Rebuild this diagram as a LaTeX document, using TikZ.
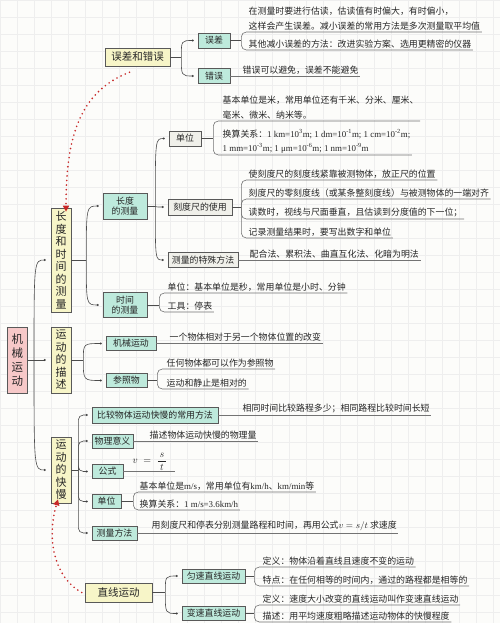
\documentclass[tikz,border=0pt]{standalone}
\usepackage{fontspec}
\setmainfont{Noto Sans CJK SC}
\newfontfamily\lat{Liberation Serif}
\usetikzlibrary{arrows.meta}

\begin{document}
\begin{tikzpicture}[x=1pt, y=-1pt,
  box/.style={rectangle, draw=black!65, line width=0.6pt, inner sep=0pt,
    text=black!85, font=\fontsize{8.9}{10.5}\selectfont, align=center},
  tbox/.style={box, fill=tema, font=\fontsize{11}{12.5}\selectfont},
  rbox/.style={box, fill=ramo},
  vbox/.style={box, fill=voce},
  ln/.style={anchor=south west, inner xsep=1.5pt, inner ysep=1.6pt,
    text=black!85, font=\fontsize{8.9}{14.5}\selectfont, align=left},
  conn/.style={draw=black!70, line width=0.6pt},
  ul/.style={draw=black!55, line width=0.6pt, rounded corners=5pt},
  rimando/.style={draw=freccia, line width=1.8pt, line cap=round,
    dash pattern=on 0pt off 4.6pt, -{Triangle[length=6pt,width=6pt]}},
]
\definecolor{tema}{RGB}{247,245,200}
\definecolor{ramo}{RGB}{190,234,220}
\definecolor{voce}{RGB}{240,240,234}
\definecolor{radice}{RGB}{246,200,200}
\definecolor{freccia}{RGB}{200,40,40}
\definecolor{sfondo}{RGB}{252,252,250}
\definecolor{griglia}{RGB}{238,238,238}

% sfondo a quadretti
\useasboundingbox (0,0) rectangle (500,623);
\fill[sfondo] (0,0) rectangle (500,623);
\draw[griglia, line width=0.4pt, step=17pt] (0,623) grid (500,0);

% ======================================================
% NODI
% ======================================================

% radice e temi
\node[box, fill=radice, font=\fontsize{11.5}{14}\selectfont,
  minimum width=20, minimum height=66] (jxyd) at (17.5,360) {机\\械\\运\\动};
\node[tbox, minimum width=20, minimum height=104] (cdsj) at (61,260)
  {长\\度\\和\\时\\间\\的\\测\\量};
\node[tbox, minimum width=20, minimum height=66] (ydms) at (61,360)
  {运\\动\\的\\描\\述};
\node[tbox, minimum width=20, minimum height=66] (ydkm) at (61,470)
  {运\\动\\的\\快\\慢};
\node[tbox, font=\fontsize{10.5}{12}\selectfont,
  minimum width=65, minimum height=18] (wucuo) at (137.5,57) {误差和错误};
\node[tbox, font=\fontsize{10.5}{12}\selectfont,
  minimum width=67, minimum height=19] (zxyd) at (118.5,592.5) {直线运动};

% rami
\node[rbox, minimum width=32, minimum height=15] (wucha) at (214,40.5) {误差};
\node[rbox, minimum width=32, minimum height=15] (cuowu) at (214,76) {错误};
\node[rbox, minimum width=44, minimum height=26] (cdcl) at (125,206) {长度\\的测量};
\node[rbox, minimum width=44, minimum height=25] (sjcl) at (125,305) {时间\\的测量};
\node[vbox, minimum width=32, minimum height=15] (dw1) at (185,138.5) {单位};
\node[vbox, minimum width=64, minimum height=16] (kdc) at (200,207) {刻度尺的使用};
\node[vbox, minimum width=70, minimum height=15] (tsff) at (203,260) {测量的特殊方法};
\node[rbox, minimum width=50, minimum height=14] (jxydb) at (131,343.5) {机械运动};
\node[rbox, minimum width=41, minimum height=14] (czw) at (126.5,380.5) {参照物};
\node[rbox, minimum width=126, minimum height=16] (bjff) at (155,415) {比较物体运动快慢的常用方法};
\node[rbox, minimum width=41, minimum height=14] (wlyy) at (112.5,441) {物理意义};
\node[rbox, minimum width=31, minimum height=14] (gs) at (107.5,471.5) {公式};
\node[rbox, minimum width=29, minimum height=14] (dw2) at (106.5,501.5) {单位};
\node[rbox, minimum width=45, minimum height=14] (clff) at (114.5,533) {测量方法};
\node[rbox, minimum width=63, minimum height=14] (ys) at (213.5,576) {匀速直线运动};
\node[rbox, minimum width=63, minimum height=14] (bs) at (213.5,613.5) {变速直线运动};

% testi sottolineati
\node[ln] (wc1) at (247,32) {在测量时要进行估读，估读值有时偏大，有时偏小，\\这样会产生误差。减小误差的常用方法是多次测量取平均值};
\node[ln] (wc2) at (247,50) {其他减小误差的方法：改进实验方案、选用更精密的仪器};
\node[ln] (cw1) at (241,76) {错误可以避免，误差不能避免};
\node[ln] (dwt1) at (221,121) {基本单位是米，常用单位还有千米、分米、厘米、\\毫米、微米、纳米等。};
\node[ln, font=\fontsize{8.9}{14}\selectfont] (dwt2) at (221,155)
  {换算关系：{\lat 1 km=10\textsuperscript{3}m; 1 dm=10\textsuperscript{-1}m; 1 cm=10\textsuperscript{-2}m;}\\
  {\lat 1 mm=10\textsuperscript{-3}m; 1 μm=10\textsuperscript{-6}m; 1 nm=10\textsuperscript{-9}m}};
\node[ln] (k1) at (247,180) {使刻度尺的刻度线紧靠被测物体，放正尺的位置};
\node[ln] (k2) at (247,199) {刻度尺的零刻度线（或某条整刻度线）与被测物体的一端对齐};
\node[ln] (k3) at (247,219) {读数时，视线与尺面垂直，且估读到分度值的下一位；};
\node[ln] (k4) at (247,238) {记录测量结果时，要写出数字和单位};
\node[ln] (ts1) at (248,260) {配合法、累积法、曲直互化法、化暗为明法};
\node[ln] (s1) at (166,293) {单位：基本单位是秒，常用单位是小时、分钟};
\node[ln] (s2) at (166,312) {工具：停表};
\node[ln] (m1) at (168,343.5) {一个物体相对于另一个物体位置的改变};
\node[ln] (c1) at (165,369) {任何物体都可以作为参照物};
\node[ln] (c2) at (165,389) {运动和静止是相对的};
\node[ln] (bj1) at (241,415) {相同时间比较路程多少；相同路程比较时间长短};
\node[ln] (wl1) at (148,441) {描述物体运动快慢的物理量};
\node[ln, inner ysep=0.5pt, font=\fontsize{10}{11}\selectfont] (gs1) at (131,471.5)
  {$v\;=\;\displaystyle\frac{\,s\,}{\,t\,}$\hspace{6pt}};
\node[ln] (u1) at (138,492) {基本单位是{\lat m/s}，常用单位有{\lat km/h}、{\lat km/min}等};
\node[ln] (u2) at (138,510) {换算关系：{\lat 1 m/s=3.6km/h}};
\node[ln] (cf1) at (150,533) {用刻度尺和停表分别测量路程和时间，再用公式$v=s/t$ 求速度};
\node[ln] (y1) at (261,567) {定义：物体沿着直线且速度不变的运动};
\node[ln] (y2) at (261,586) {特点：在任何相等的时间内，通过的路程都是相等的};
\node[ln] (b1) at (261,605) {定义：速度大小改变的直线运动叫作变速直线运动};
\node[ln] (b2) at (261,622) {描述：用平均速度粗略描述运动物体的快慢程度};

% ======================================================
% COLLEGAMENTI
% ======================================================

% radice
\coordinate (jr) at (34,360);
\coordinate (pr) at ([xshift=-6pt]ydms.west);
\draw[conn] (jxyd.east) -- (pr);
\fill[black!75] (pr) circle (1.1pt);
\foreach \c in {cdsj,ydkm} {
  \coordinate (p) at ([xshift=-6pt]\c.west);
  \draw[conn] (jr) .. controls (jr |- p) .. (p);
  \fill[black!75] (p) circle (1.1pt);
}

% rami a curva (padre, giunto, figli)
\foreach \padre/\dx/\figli in {wucuo/11/{wucha,cuowu}, cdsj/15/{cdcl,sjcl},
    cdcl/8/{dw1,kdc,tsff}, ydms/12/{jxydb,czw}, zxyd/13/{ys,bs}} {
  \coordinate (j) at ([xshift=\dx pt]\padre.east);
  \draw[conn] (\padre.east) -- (j);
  \foreach \c in \figli {
    \coordinate (p) at ([xshift=-5pt]\c.west);
    \draw[conn] (j) .. controls (j |- p) .. (p);
    \fill[black!75] (p) circle (1.1pt);
  }
}

% ramo del 运动的快慢
\coordinate (jk) at ([xshift=7pt]ydkm.east);
\draw[conn] (ydkm.east) -- (jk);
\foreach \c in {bjff,wlyy,gs,dw2,clff} {
  \coordinate (p) at ([xshift=-5pt]\c.west);
  \draw[conn, rounded corners=5pt] (jk) |- (p);
  \fill[black!75] (p) circle (1.1pt);
}

% testi a parentesi
\foreach \padre/\dx/\testi in {wucha/11/{wc1,wc2}, dw1/12/{dwt1,dwt2},
    kdc/9/{k1,k2,k3,k4}, sjcl/12/{s1,s2}, czw/10/{c1,c2},
    dw2/12/{u1,u2}, ys/9/{y1,y2}, bs/9/{b1,b2}} {
  \coordinate (j) at ([xshift=\dx pt]\padre.east);
  \draw[conn] (\padre.east) -- (j);
  \foreach \t in \testi
    \draw[ul] (j) |- (\t.south east);
}

% testi diretti
\foreach \padre/\t in {cuowu/cw1, tsff/ts1, jxydb/m1, bjff/bj1,
    wlyy/wl1, gs/gs1, clff/cf1}
  \draw[ul] (\padre.east) -- (\padre.east -| \t.south east);

% frecce rosse punteggiate
\draw[rimando] ([xshift=-8pt, yshift=-6pt]wucuo.south)
  .. controls (78,92) and (66,140) .. ([xshift=5pt, yshift=-4pt]cdsj.north);
\draw[rimando] ([xshift=-3pt]zxyd.west)
  .. controls (55,578) and (46,540) .. ([xshift=-3pt, yshift=4pt]ydkm.south);

\end{tikzpicture}
\end{document}
